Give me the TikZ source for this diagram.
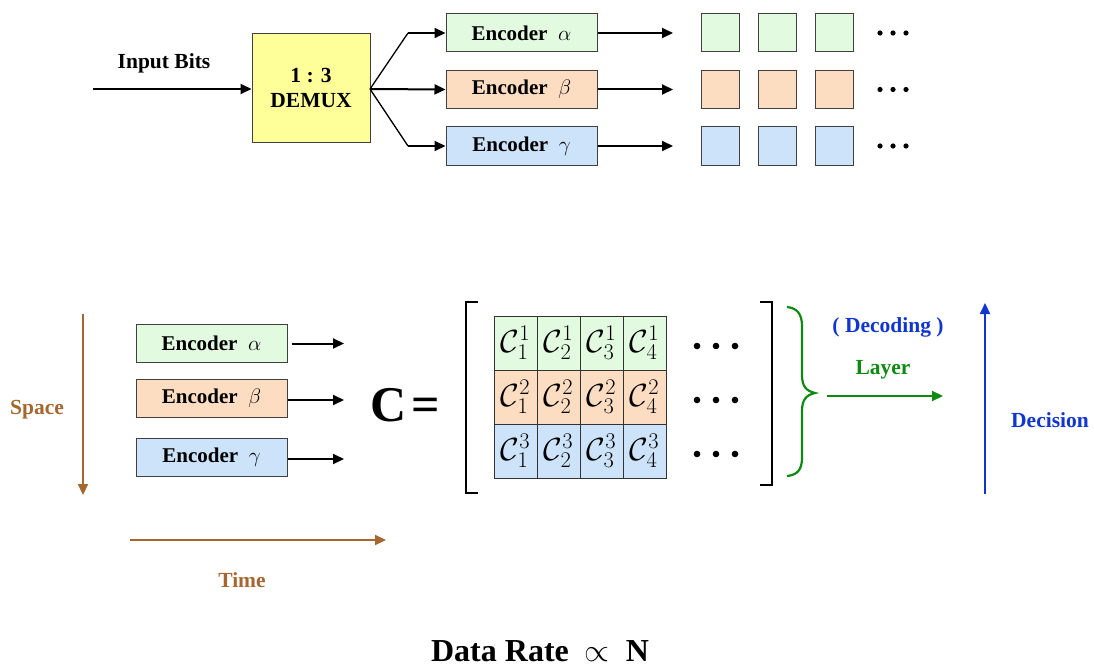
\RequirePackage{fix-cm}
\documentclass[tikz,border=0pt]{standalone}
\usepackage{fontspec}
\setmainfont{Liberation Serif}
\usetikzlibrary{arrows.meta}

\definecolor{encgreen}{HTML}{E2FAE0}
\definecolor{encorange}{HTML}{FCDDC2}
\definecolor{encblue}{HTML}{CDE3FA}
\definecolor{demuxyellow}{HTML}{FFFF99}
\definecolor{axisbrown}{HTML}{A5672F}
\definecolor{layergreen}{HTML}{0E8A12}
\definecolor{decblue}{HTML}{1136D0}

\tikzset{
  lbl/.style={font=\bfseries\fontsize{21.5}{24}\selectfont, inner sep=0pt},
  encbox/.style={draw=black!75, line width=1pt, minimum width=151pt, minimum height=38pt,
                 inner sep=0pt, font=\bfseries\fontsize{21}{24}\selectfont},
  symbox/.style={draw=black!75, line width=1pt, minimum width=38pt, minimum height=38pt, inner sep=0pt},
  cell/.style={draw=black!80, line width=1pt, minimum width=43pt, minimum height=54pt,
               inner sep=0pt, font=\fontsize{32}{34}\selectfont},
  flow/.style={line width=2pt, -{Triangle[length=11pt,width=10pt]}},
  split/.style={line width=1.3pt},
  bigdot/.style={fill=black},
}

\begin{document}
\begin{tikzpicture}[x=1pt,y=-1pt]
\useasboundingbox (0,0) rectangle (1094,666);

% ---------- transmitter: demultiplexer feeding three encoders ----------
\node[lbl] (inlbl) at (164,63) {Input Bits};
\coordinate (in) at (93,89);
\node[draw=black!75, line width=1pt, fill=demuxyellow, minimum width=118pt, minimum height=108pt,
      inner sep=0pt, align=center, font=\bfseries\fontsize{21.5}{25}\selectfont] (demux) at (311,88) {1 : 3\\DEMUX};
\draw[flow] (in) -- (demux.west |- in);

\node[encbox, fill=encgreen]  (ta) at (521.5,33)  {Encoder~ $\alpha$};
\node[encbox, fill=encorange] (tb) at (521.5,89.5){Encoder~ $\beta$};
\node[encbox, fill=encblue]   (tc) at (521.5,146) {Encoder~ $\gamma$};

\coordinate (fork) at (370,89);
\coordinate (upbend) at (408,33);
\coordinate (dnbend) at (408,146);
\draw[split] (fork) -- (upbend);
\draw[flow] (upbend) -- (ta.west);
\draw[flow] (fork) -- (tb.west);
\draw[split] (fork) -- (dnbend);
\draw[flow] (dnbend) -- (tc.west);

% symbol streams
\foreach \r/\y/\c in {a/33/encgreen, b/89.5/encorange, c/146/encblue}{
  \node[symbox, fill=\c] (s\r1) at (720,\y) {};
  \node[symbox, fill=\c] (s\r2) at (777,\y) {};
  \node[symbox, fill=\c] (s\r3) at (834,\y) {};
  \foreach \dx in {880,893,906}{ \fill[bigdot] (\dx,\y) circle (2.6pt); }
}
\coordinate (oa) at (673,33);
\coordinate (ob) at (673,89.5);
\coordinate (oc) at (673,146);
\draw[flow] (ta.east) -- (oa);
\draw[flow] (tb.east) -- (ob);
\draw[flow] (tc.east) -- (oc);

% ---------- space-time code matrix ----------
\draw[axisbrown, line width=2.2pt, -{Triangle[length=11pt,width=10pt]}] (83,314) -- (83,495);
\node[lbl, text=axisbrown] (space) at (37,410) {Space};
\draw[axisbrown, line width=2.2pt, -{Triangle[length=11pt,width=10pt]}] (130,540) -- (386,540);
\node[lbl, text=axisbrown] (time) at (242,580) {Time};

\node[encbox, fill=encgreen]  (ba) at (211.5,343.5) {Encoder~ $\alpha$};
\node[encbox, fill=encorange] (bb) at (211.5,398)   {Encoder~ $\beta$};
\node[encbox, fill=encblue]   (bc) at (211.5,457.5) {Encoder~ $\gamma$};
\coordinate (ea) at (344,343.5);
\coordinate (eb) at (344,400);
\coordinate (ec) at (344,459);
\draw[flow, shorten <=4pt] (ba.east) -- (ea);
\draw[flow] (bb.east |- eb) -- (eb);
\draw[flow] (bc.east |- ec) -- (ec);

\node[font=\bfseries\fontsize{50}{54}\selectfont, inner sep=0pt] (ceq) at (405,405) {C\hspace{5pt}=};

% brackets
\draw[line width=2pt] (478,302) -- (466,302) -- (466,493) -- (478,493);
\draw[line width=2pt] (760,302) -- (772,302) -- (772,485) -- (760,485);

% matrix cells
\foreach \row/\y/\c in {1/343/encgreen, 2/397/encorange, 3/451/encblue}{
  \foreach \col in {1,2,3,4}{
    \node[cell, fill=\c] (m\row\col) at (515.5+43*\col-43,\y) {$\mathcal{C}^{\row}_{\col}$};
  }
  \foreach \dx in {697,716,735}{ \fill[bigdot] (\dx,\y+3) circle (3.3pt); }
}

% decoding brace and arrows
\draw[layergreen, line width=2.2pt]
  (787,307) .. controls (797,308) and (802,314) .. (802,326)
  -- (802,375) .. controls (802,386) and (806,391) .. (815,393)
  .. controls (806,395) and (802,400) .. (802,411)
  -- (802,458) .. controls (802,470) and (797,475) .. (787,476);
\node[lbl, text=decblue] (decoding) at (888,327) {( Decoding )};
\node[lbl, text=layergreen] (layer) at (883,370) {Layer};
\coordinate (ls) at (827,396);
\coordinate (le) at (943,396);
\draw[layergreen, line width=2pt, -{Triangle[length=11pt,width=10pt]}] (ls) -- (le);

\coordinate (ds) at (985,494);
\coordinate (de) at (985,303);
\draw[decblue, line width=2pt, -{Triangle[length=11pt,width=10pt]}] (ds) -- (de);
\node[lbl, text=decblue] (decision) at (1050,420) {Decision};

\node[font=\bfseries\fontsize{32}{36}\selectfont, inner sep=0pt, anchor=base] (rate) at (540,661) {Data Rate~ $\propto$~ N};
\end{tikzpicture}
\end{document}
